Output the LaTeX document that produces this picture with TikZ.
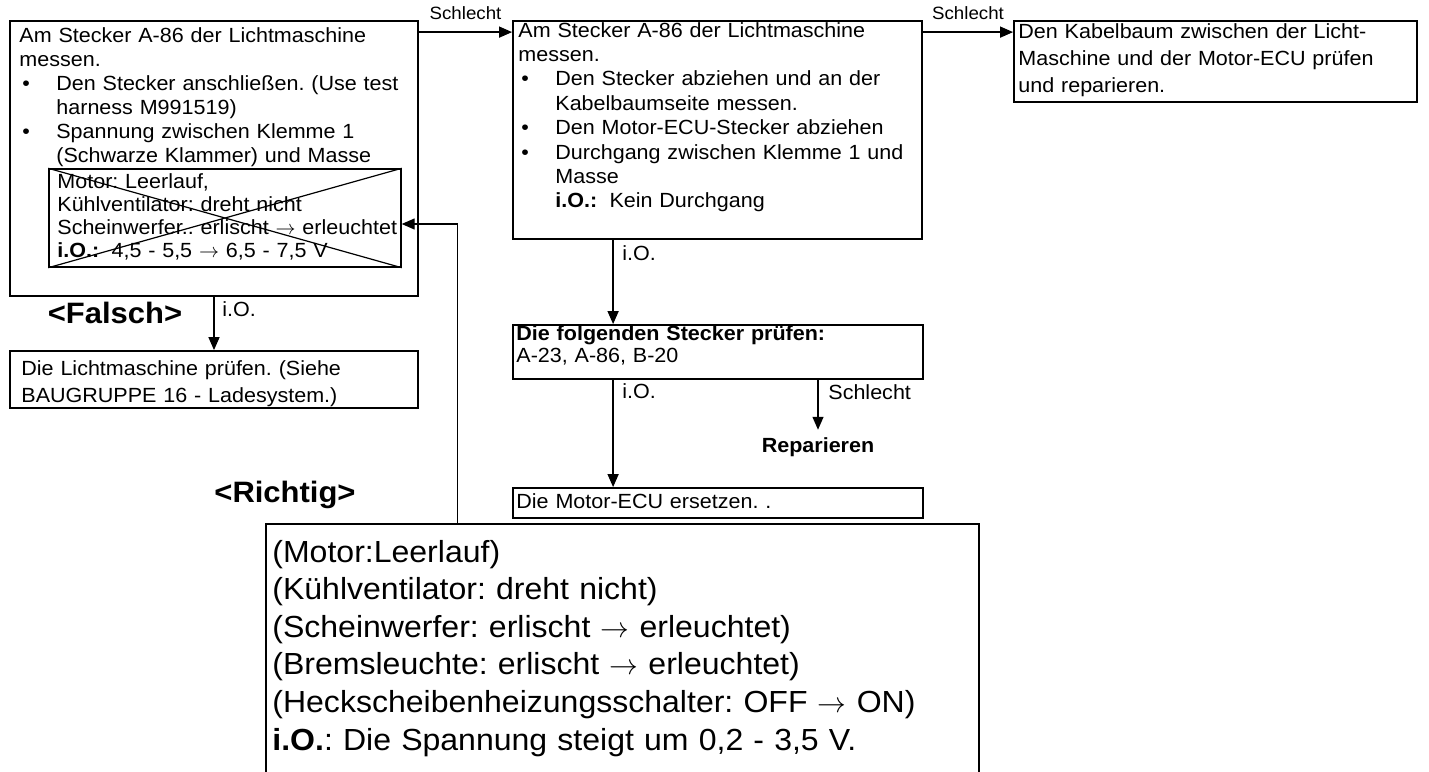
\documentclass[tikz,border=0pt]{standalone}
\usepackage{fontspec}
\setmainfont{Liberation Sans}[FakeStretch=1.05]
\usepackage{tikz}
\usetikzlibrary{positioning,arrows.meta,calc,fit}
\frenchspacing
\newcommand{\bodyfont}{\fontsize{10.25}{12}\selectfont}
\newcommand{\smallfont}{\fontsize{8.9}{10.5}\selectfont}
\newcommand{\bigfont}{\fontsize{15.25}{18.8}\selectfont}
\newcommand{\tagfont}{\fontsize{14.75}{17}\selectfont\bfseries}
\newcommand{\toarrow}{$\rightarrow$}
\newcommand{\bitem}[1]{\par\noindent\hangindent=18.5pt\hangafter=1\makebox[18.5pt][l]{\hspace{1.5pt}\textbullet}#1\par}
\tikzset{
  box/.style={draw, line width=0.9pt, inner sep=0pt},
  crossbox/.style={draw, line width=0.7pt, inner sep=0pt},
  txt/.style={anchor=base west, inner sep=0pt, text width=380pt, font=\fontsize{10.25}{#1}\selectfont\frenchspacing},
  txt/.default=12,
  lbl/.style={anchor=base west, inner sep=0pt, font=\bodyfont},
  arr/.style={-{Triangle[length=6.5pt,width=5.5pt]}, line width=0.7pt},
}

\begin{document}
\begin{tikzpicture}[x=0.5pt,y=-0.5pt]
  \useasboundingbox (0,0) rectangle (1429,771);
  % boxes
  \node[box, fit={(10,21) (418,296)}] (chk1) {};
  \node[crossbox, fit={(49,169) (401,267)}] (old) {};
  \node[box, fit={(513,21) (922,239)}] (chk2) {};
  \node[box, fit={(1014,21) (1417,102)}] (harn) {};
  \node[box, fit={(10,351) (418,408)}] (alt) {};
  \node[box, fit={(513,325) (923,379)}] (conn) {};
  \node[box, fit={(513,488) (923,518)}] (ecu) {};
  \begin{scope}
    \clip (0,0) rectangle (1429,771);
    \node[box, line width=0.75pt, fit={(266,524) (979,800)}] (rng) {};
  \end{scope}
  % crossed out values
  \draw[line width=0.6pt] (old.north west) -- (old.south east) (old.south west) -- (old.north east);
  % texts
  \node[txt] (chk1t) at (19,42) {Am Stecker A-86 der Lichtmaschine\newline messen.
    \bitem{Den Stecker anschließen. (Use test\newline harness M991519)}
    \bitem{Spannung zwischen Klemme 1\newline (Schwarze Klammer) und Masse}};
  \node[txt=11.65] (oldt) at (57,188) {Motor: Leerlauf,\newline Kühlventilator: dreht nicht\newline
    Scheinwerfer.. erlischt \toarrow{} erleuchtet\newline \textbf{i.O.:}\hspace{0.6em}4,5 - 5,5 \toarrow{} 6,5 - 7,5 V};
  \node[txt=12.2] (chk2t) at (518,37) {Am Stecker A-86 der Lichtmaschine\newline messen.
    \bitem{Den Stecker abziehen und an der\newline Kabelbaumseite messen.}
    \bitem{Den Motor-ECU-Stecker abziehen}
    \bitem{Durchgang zwischen Klemme 1 und\newline Masse\newline \textbf{i.O.:}\hspace{0.6em}Kein Durchgang}};
  \node[txt=13.6] (harnt) at (1018,38) {Den Kabelbaum zwischen der Licht-\newline Maschine und der Motor-ECU prüfen\newline und reparieren.};
  \node[txt=13.5] (altt) at (21,375) {Die Lichtmaschine prüfen. (Siehe\newline BAUGRUPPE 16 - Ladesystem.)};
  \node[txt=11] (connt) at (516,340) {\textbf{Die folgenden Stecker prüfen:}\newline A-23, A-86, B-20};
  \node[txt] (ecut) at (516,508) {Die Motor-ECU ersetzen. .};
  \node[txt, font=\bigfont] (rngt) at (272,562) {(Motor:Leerlauf)\newline
    (Kühlventilator: dreht nicht)\newline
    (Scheinwerfer: erlischt \toarrow{} erleuchtet)\newline
    (Bremsleuchte: erlischt \toarrow{} erleuchtet)\newline
    (Heckscheibenheizungsschalter: OFF \toarrow{} ON)\newline
    \textbf{i.O.}: Die Spannung steigt um 0,2 - 3,5 V.};
  \node[anchor=base, inner sep=0pt, font=\tagfont] (wrong) at (115,323) {<Falsch>};
  \node[anchor=base, inner sep=0pt, font=\tagfont] (right) at (285,502) {<Richtig>};
  \node[anchor=base, inner sep=3.5pt, font=\bodyfont\bfseries] (rep) at (818,452) {Reparieren};
  % connectors
  \foreach \a/\b in {chk1/chk2,chk2/harn}
    \draw[arr] ($(\a.north east)+(0,12)$) -- node[midway, anchor=base, yshift=6.5pt, inner sep=0pt, font=\smallfont] (bad-\a) {Schlecht} ($(\b.north west)+(0,12)$);
  \draw[arr] (chk1.south) -- (alt.north);
  \draw[arr] ($(chk2.south west)+(101,0)$) -- ($(conn.north west)+(101,0)$);
  \draw[arr] ($(conn.south west)+(101,0)$) -- ($(ecu.north west)+(101,0)$);
  \draw[arr] (rep.north |- conn.south) -- (rep.north);
  \draw[arr] ($(rng.north west)+(192,0)$) |- ($(old.east)+(0,6)$);
  \node[lbl] (io1) at (222,316) {i.O.};
  \node[lbl] (io2) at (622,260) {i.O.};
  \node[lbl] (io3) at (622,398) {i.O.};
  \node[lbl] (bad3) at (828,399) {Schlecht};
\end{tikzpicture}
\end{document}
